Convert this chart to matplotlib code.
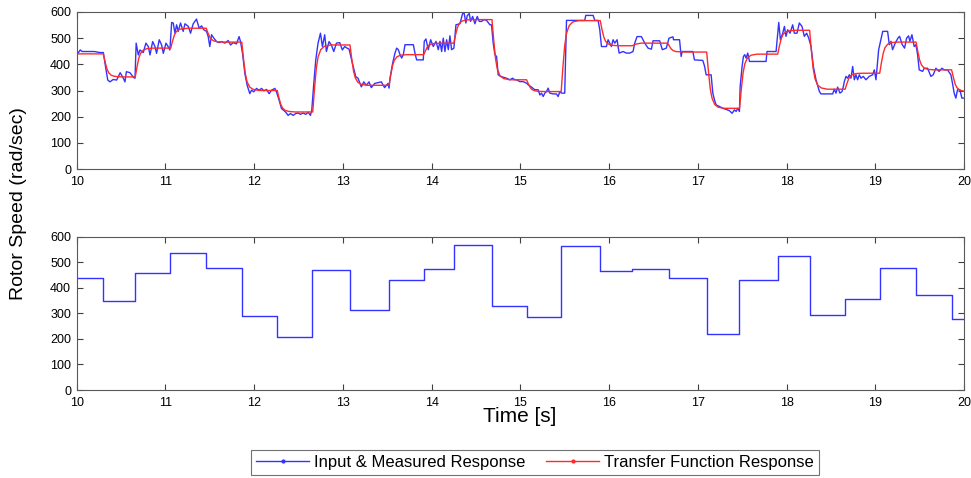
import matplotlib
matplotlib.use("Agg")
import matplotlib.pyplot as plt
from matplotlib.lines import Line2D

plt.rcParams["font.family"] = ["Liberation Sans", "DejaVu Sans"]

# ---------------------------------------------------------------------------
# Data
# ---------------------------------------------------------------------------

# step input: switch times and levels (last level held to 20 s)
step_t = [10.0, 10.30, 10.66, 11.055, 11.46, 11.86, 12.26, 12.65, 13.08, 13.52,
          13.91, 14.25, 14.68, 15.07, 15.46, 15.90, 16.26, 16.68, 17.10, 17.46,
          17.90, 18.26, 18.66, 19.05, 19.46, 19.86, 20.0]
step_v = [439, 349, 459, 536, 480, 290, 208, 470, 313, 431,
          474, 567, 329, 286, 565, 465, 474, 439, 220, 431,
          526, 294, 356, 480, 371, 280, 280]

# measured rotor speed
meas_t = [10.00, 10.02, 10.04, 10.06, 10.20, 10.26, 10.30, 10.33, 10.35, 10.375,
          10.41, 10.45, 10.49, 10.525, 10.544, 10.56, 10.60, 10.64, 10.657, 10.67,
          10.694, 10.713, 10.75, 10.78, 10.807, 10.826, 10.856, 10.882, 10.90, 10.93,
          10.957, 10.976, 11.006, 11.03, 11.05, 11.07, 11.088, 11.107, 11.126, 11.144,
          11.17, 11.20, 11.22, 11.257, 11.283, 11.313, 11.35, 11.38, 11.407, 11.433,
          11.463, 11.482, 11.50, 11.52, 11.546, 11.576, 11.606, 11.632, 11.67, 11.707,
          11.734, 11.764, 11.80, 11.83, 11.846, 11.869, 11.895, 11.921, 11.951, 11.97,
          11.996, 12.026, 12.056, 12.083, 12.109, 12.139, 12.169, 12.195, 12.233, 12.251,
          12.281, 12.308, 12.334, 12.356, 12.383, 12.409, 12.439, 12.469, 12.495, 12.522,
          12.552, 12.582, 12.608, 12.634, 12.649, 12.672, 12.694, 12.72, 12.747, 12.769,
          12.795, 12.814, 12.844, 12.87, 12.897, 12.927, 12.964, 12.994, 13.02, 13.047,
          13.07, 13.107, 13.145, 13.17, 13.208, 13.235, 13.264, 13.294, 13.32, 13.358,
          13.396, 13.433, 13.47, 13.508, 13.52, 13.531, 13.561, 13.587, 13.606, 13.625,
          13.644, 13.662, 13.681, 13.70, 13.794, 13.812, 13.831, 13.906, 13.917, 13.936,
          13.962, 13.989, 14.019, 14.049, 14.075, 14.094, 14.113, 14.131, 14.15, 14.169,
          14.188, 14.206, 14.225, 14.251, 14.274, 14.319, 14.349, 14.366, 14.386, 14.401,
          14.424, 14.439, 14.462, 14.488, 14.514, 14.537, 14.563, 14.589, 14.619, 14.657,
          14.675, 14.694, 14.713, 14.732, 14.75, 14.777, 14.807, 14.844, 14.882, 14.912,
          14.938, 14.957, 14.994, 15.032, 15.069, 15.088, 15.126, 15.163, 15.20, 15.22,
          15.238, 15.257, 15.276, 15.295, 15.313, 15.332, 15.37, 15.407, 15.426, 15.445,
          15.463, 15.50, 15.52, 15.726, 15.737, 15.82, 15.839, 15.876, 15.895, 15.914,
          15.97, 15.989, 16.026, 16.045, 16.064, 16.09, 16.113, 16.158, 16.195, 16.233,
          16.27, 16.289, 16.315, 16.364, 16.402, 16.439, 16.477, 16.495, 16.57, 16.60,
          16.645, 16.675, 16.72, 16.726, 16.794, 16.812, 16.824, 16.944, 16.962, 17.056,
          17.075, 17.094, 17.15, 17.169, 17.188, 17.206, 17.244, 17.281, 17.319, 17.356,
          17.386, 17.413, 17.432, 17.45, 17.469, 17.477, 17.499, 17.514, 17.529, 17.544,
          17.563, 17.582, 17.769, 17.78, 17.882, 17.90, 17.912, 17.931, 17.957, 17.976,
          17.994, 18.013, 18.039, 18.069, 18.088, 18.118, 18.144, 18.174, 18.20, 18.227,
          18.25, 18.276, 18.302, 18.332, 18.37, 18.388, 18.52, 18.538, 18.557, 18.576,
          18.602, 18.625, 18.64, 18.651, 18.67, 18.689, 18.707, 18.726, 18.745, 18.764,
          18.782, 18.801, 18.82, 18.839, 18.865, 18.895, 18.932, 18.97, 18.989, 19.008,
          19.038, 19.084, 19.139, 19.158, 19.177, 19.195, 19.225, 19.255, 19.274, 19.304,
          19.33, 19.353, 19.375, 19.39, 19.413, 19.439, 19.458, 19.477, 19.495, 19.533,
          19.552, 19.589, 19.627, 19.653, 19.683, 19.72, 19.751, 19.777, 19.814, 19.852,
          19.87, 19.889, 19.908, 19.927, 19.953, 19.976, 20.0]
meas_v = [449, 445, 455, 449, 449, 445, 445, 380, 340, 333,
          342, 340, 368, 347, 333, 372, 368, 350, 347, 481,
          436, 455, 445, 481, 468, 436, 487, 468, 442, 494,
          474, 442, 481, 468, 455, 560, 558, 519, 551, 526,
          558, 526, 555, 545, 519, 555, 573, 538, 547, 532,
          526, 506, 468, 513, 500, 487, 483, 487, 481, 491,
          474, 483, 478, 506, 487, 442, 365, 320, 288, 301,
          295, 308, 301, 308, 299, 304, 288, 301, 308, 295,
          263, 231, 224, 217, 205, 212, 205, 212, 214, 209,
          214, 209, 217, 205, 224, 327, 417, 481, 519, 468,
          513, 449, 487, 474, 449, 481, 483, 455, 468, 462,
          458, 404, 353, 347, 314, 333, 320, 333, 311, 327,
          330, 333, 311, 327, 309, 347, 405, 443, 462, 456,
          437, 424, 437, 475, 475, 443, 417, 417, 488, 497,
          456, 494, 468, 488, 456, 488, 449, 500, 449, 494,
          456, 509, 456, 462, 551, 555, 594, 596, 558, 586,
          594, 564, 583, 555, 583, 564, 564, 571, 568, 551,
          551, 481, 437, 430, 360, 354, 351, 347, 341, 347,
          341, 341, 334, 334, 328, 322, 313, 303, 303, 283,
          290, 277, 290, 296, 309, 290, 287, 287, 277, 296,
          290, 290, 568, 568, 587, 587, 568, 568, 532, 468,
          468, 494, 468, 494, 481, 494, 443, 449, 443, 443,
          449, 481, 506, 506, 481, 462, 458, 490, 490, 456,
          462, 500, 505, 494, 494, 430, 449, 449, 417, 415,
          394, 360, 360, 290, 264, 245, 239, 232, 228, 223,
          213, 226, 220, 232, 220, 315, 392, 430, 437, 424,
          443, 411, 411, 449, 449, 513, 560, 494, 519, 545,
          507, 532, 519, 551, 519, 519, 558, 545, 507, 519,
          500, 468, 392, 341, 296, 287, 287, 305, 290, 313,
          290, 296, 315, 334, 354, 347, 360, 347, 392, 341,
          360, 341, 360, 347, 354, 341, 354, 360, 379, 341,
          456, 526, 526, 475, 488, 456, 481, 500, 507, 475,
          462, 500, 509, 488, 513, 468, 475, 437, 379, 373,
          385, 385, 354, 360, 385, 373, 385, 379, 379, 360,
          328, 290, 271, 303, 303, 271, 271]

# transfer function response
model_t = [10.00,
           10.30, 10.32, 10.34, 10.36, 10.39, 10.43, 10.50,
           10.66, 10.68, 10.70, 10.72, 10.75, 10.79, 10.86,
           11.06, 11.08, 11.10, 11.12, 11.15, 11.19, 11.26,
           11.46, 11.48, 11.50, 11.52, 11.55, 11.59, 11.66,
           11.86, 11.88, 11.90, 11.92, 11.95, 11.99, 12.06,
           12.26, 12.28, 12.30, 12.32, 12.35, 12.39, 12.46,
           12.66, 12.68, 12.70, 12.72, 12.75, 12.79, 12.86,
           13.08, 13.10, 13.12, 13.14, 13.17, 13.21, 13.28,
           13.52, 13.54, 13.56, 13.58, 13.61, 13.65, 13.72,
           13.91, 13.93, 13.95, 13.97, 14.00, 14.04, 14.11,
           14.25, 14.27, 14.29, 14.31, 14.34, 14.38, 14.45,
           14.68, 14.70, 14.72, 14.74, 14.77, 14.81, 14.88,
           15.07, 15.09, 15.11, 15.13, 15.16, 15.20, 15.27,
           15.46, 15.48, 15.50, 15.52, 15.55, 15.59, 15.66,
           15.90, 15.92, 15.94, 15.96, 15.99, 16.03, 16.10,
           16.26, 16.30, 16.36,
           16.66, 16.68, 16.70, 16.72, 16.75, 16.79, 16.86,
           17.10, 17.12, 17.14, 17.16, 17.19, 17.23, 17.30,
           17.47, 17.49, 17.51, 17.53, 17.56, 17.60, 17.67,
           17.90, 17.92, 17.94, 17.96, 17.99, 18.03, 18.10,
           18.26, 18.28, 18.30, 18.32, 18.35, 18.39, 18.46,
           18.66, 18.68, 18.70, 18.72, 18.75, 18.79, 18.86,
           19.05, 19.07, 19.09, 19.11, 19.14, 19.18, 19.25,
           19.46, 19.48, 19.50, 19.52, 19.55, 19.59, 19.66,
           19.86, 19.88, 19.90, 19.92, 19.95, 19.99, 20.00]
model_v = [440,
           440, 409, 383, 368, 358, 354, 352,
           352, 391, 424, 442, 454, 460, 462,
           462, 489, 511, 524, 533, 536, 538,
           538, 519, 504, 495, 489, 486, 485,
           485, 420, 365, 333, 313, 304, 300,
           300, 271, 247, 233, 224, 220, 218,
           218, 308, 384, 428, 456, 469, 474,
           474, 420, 374, 348, 331, 323, 320,
           320, 361, 396, 416, 429, 435, 437,
           437, 452, 466, 473, 478, 480, 481,
           481, 513, 540, 555, 565, 569, 571,
           571, 491, 422, 382, 357, 346, 341,
           341, 325, 312, 304, 299, 297, 296,
           296, 391, 472, 518, 548, 562, 567,
           567, 533, 505, 488, 478, 473, 471,
           471, 477, 481,
           481, 469, 459, 453, 449, 448, 447,
           447, 372, 307, 271, 247, 236, 232,
           232, 304, 367, 402, 425, 435, 439,
           439, 471, 498, 514, 524, 528, 530,
           530, 451, 384, 346, 321, 310, 305,
           305, 326, 345, 355, 362, 365, 366,
           366, 408, 443, 464, 477, 483, 485,
           485, 448, 416, 398, 386, 381, 379,
           379, 350, 325, 311, 302, 298, 297]

x_ticks = list(range(10, 21))
y_ticks = [0, 100, 200, 300, 400, 500, 600]

BLUE = "#3333ff"
RED = "#ff2a2a"


def style_axes(ax):
    ax.set_xlim(10, 20)
    ax.set_ylim(0, 600)
    ax.set_xticks(x_ticks)
    ax.set_yticks(y_ticks)
    ax.tick_params(direction="in", length=4, width=0.8, labelsize=9,
                   top=True, right=True, colors="0.25", labelcolor="black")
    ax.tick_params(axis="x", pad=5)
    ax.tick_params(axis="y", pad=4)
    for sp in ax.spines.values():
        sp.set_color("0.35")
        sp.set_linewidth(0.8)


fig = plt.figure(figsize=(9.71, 4.78), dpi=100)
ax1 = fig.add_axes([0.079, 0.6464, 0.9138, 0.3285])
ax2 = fig.add_axes([0.079, 0.1841, 0.9138, 0.3201])

ax1.plot(meas_t, meas_v, color=BLUE, lw=1.0)
ax1.plot(model_t, model_v, color=RED, lw=1.0)
style_axes(ax1)

ax2.step(step_t, step_v, where="post", color=BLUE, lw=1.0)
style_axes(ax2)

fig.text(0.019, 0.575, "Rotor Speed (rad/sec)", rotation=90, ha="center",
         va="center", fontsize=14)
fig.text(0.5355, 0.128, "Time [s]", ha="center", va="center", fontsize=15)

handles = [Line2D([], [], color=BLUE, lw=1.0, marker=".", markersize=4),
           Line2D([], [], color=RED, lw=1.0, marker=".", markersize=4)]
leg = fig.legend(handles, ["Input & Measured Response", "Transfer Function Response"],
                 loc="center", bbox_to_anchor=(0.551, 0.033), ncol=2, fontsize=12,
                 frameon=True, fancybox=False, edgecolor="0.3", numpoints=1,
                 handlelength=3.2, handletextpad=0.3, columnspacing=1.2,
                 borderpad=0.3)
leg.get_frame().set_linewidth(0.8)

fig.savefig("out.png", dpi=100)
